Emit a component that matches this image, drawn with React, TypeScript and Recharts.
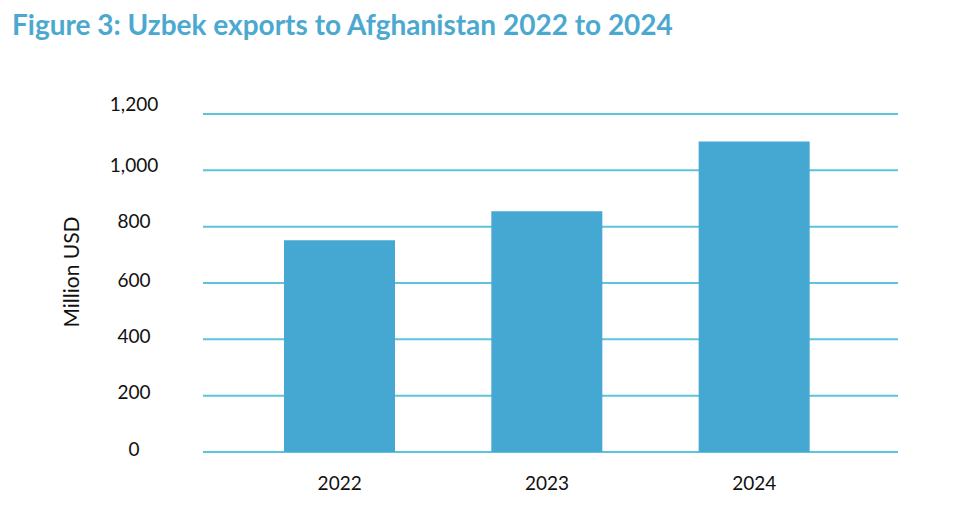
import React from 'react';
import { BarChart, Bar, XAxis, YAxis, CartesianGrid } from 'recharts';

const YEARS = ['2022', '2023', '2024'];
const EXPORTS = [752, 855, 1102];
const Y_TICKS = [0, 200, 400, 600, 800, 1000, 1200];

const BAR_COLOR = '#45a8d2';
const GRID_COLOR = '#5ec3dd';
const FONT = 'Lato, "Open Sans", sans-serif';

const chartData = YEARS.map((year, i) => ({ year, value: EXPORTS[i] }));

const YTick = (props: any) => {
  const { y, payload } = props;
  // the top label sits a little higher above its line in the original
  const lift = payload.value === 1200 ? 10 : payload.value >= 800 ? 5 : 3;
  return (
    <text x={134} y={y - lift} dy="0.355em" textAnchor="middle" fill="#111" fontSize={19} fontFamily={FONT}>
      {payload.value.toLocaleString('en-US')}
    </text>
  );
};

const XTick = (props: any) => {
  const { x, y, payload } = props;
  return (
    <text x={x} y={y + 23} dy="0.355em" textAnchor="middle" fill="#111" fontSize={19} fontFamily={FONT}>
      {payload.value}
    </text>
  );
};

const AxisTitle = () => (
  <text
    x={72}
    y={272}
    transform="rotate(-90 72 272)"
    dy="0.355em"
    textAnchor="middle"
    fill="#111"
    fontSize={21}
    fontFamily={FONT}
  >
    Million USD
  </text>
);

export default function App() {
  return (
    <div style={{ position: 'absolute', left: 0, top: 0, width: 960, height: 528, background: '#fff' }}>
      <div
        style={{
          position: 'absolute',
          left: 12,
          top: 7,
          fontFamily: FONT,
          fontWeight: 700,
          fontSize: 28,
          color: '#4ba9d0',
          whiteSpace: 'nowrap',
        }}
      >
        Figure 3: Uzbek exports to Afghanistan 2022 to 2024
      </div>
      <BarChart
        width={960}
        height={528}
        data={chartData}
        margin={{ top: 114, right: 62, bottom: 46, left: 103 }}
      >
        <CartesianGrid vertical={false} stroke={GRID_COLOR} strokeWidth={2} />
        <XAxis
          dataKey="year"
          axisLine={false}
          tickLine={false}
          height={30}
          padding={{ left: 33, right: 40 }}
          tick={<XTick />}
        />
        <YAxis
          domain={[0, 1200]}
          ticks={Y_TICKS}
          axisLine={false}
          tickLine={false}
          width={100}
          tick={<YTick />}
          label={<AxisTitle />}
        />
        <Bar dataKey="value" fill={BAR_COLOR} barSize={111} isAnimationActive={false} />
      </BarChart>
    </div>
  );
}
